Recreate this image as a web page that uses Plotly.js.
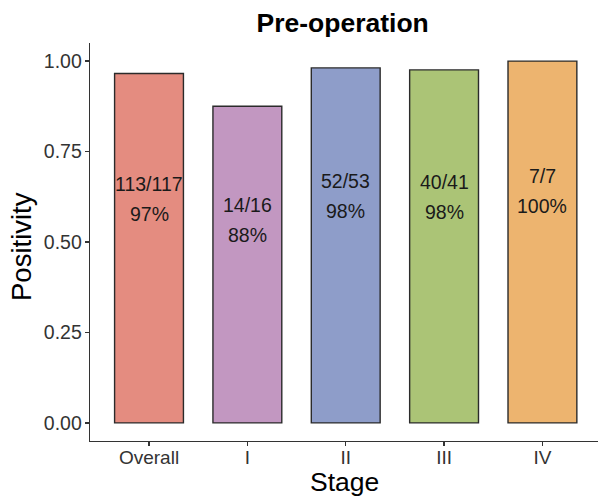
<!DOCTYPE html>
<html>
<head>
<meta charset="utf-8">
<script src="https://cdn.plot.ly/plotly-3.0.1.min.js"></script>
<style>html,body{margin:0;padding:0;background:#fff;}#chart{width:598px;height:498px;}</style>
</head>
<body>
<div id="chart"></div>
<script>
const categories = ["Overall", "I", "II", "III", "IV"];
const positives = [113, 14, 52, 40, 7];
const totals = [117, 16, 53, 41, 7];
const barColors = ["#E48C80", "#C297C1", "#8E9DC9", "#ABC476", "#EDB46F"];
const yTickVals = [0, 0.25, 0.5, 0.75, 1.0];
const yTickText = ["0.00", "0.25", "0.50", "0.75", "1.00"];

const positivity = positives.map((p, i) => p / totals[i]);
const fracText = positives.map((p, i) => p + "/" + totals[i]);
const pctText = positivity.map(v => Math.round(v * 100) + "%");

const FONT = "Liberation Sans, Arial, sans-serif";

const bars = {
  type: "bar",
  x: categories,
  y: positivity,
  marker: { color: barColors, line: { color: "#2b2b2b", width: 1.4 } },
  hoverinfo: "skip"
};

const annotations = [];
categories.forEach((c, i) => {
  const yc = positivity[i] * 0.64;
  annotations.push({ x: c, y: yc, xref: "x", yref: "y", text: fracText[i], showarrow: false,
    yshift: 15, font: { family: FONT, size: 19.5, color: "#1a1a1a" } });
  annotations.push({ x: c, y: yc, xref: "x", yref: "y", text: pctText[i], showarrow: false,
    yshift: -15, font: { family: FONT, size: 19.5, color: "#1a1a1a" } });
});
annotations.push({ x: 0.5, y: 0, xref: "paper", yref: "paper", yanchor: "top", yshift: -25,
  text: "Stage", showarrow: false, borderpad: 0, font: { family: FONT, size: 26.5, color: "#000" } });
annotations.push({ x: 0, y: 0.5, xref: "paper", yref: "paper", xanchor: "center", xshift: -69, yshift: -5,
  text: "Positivity", textangle: -90, showarrow: false, font: { family: FONT, size: 27.5, color: "#000" } });

const layout = {
  width: 598, height: 498,
  margin: { l: 90, r: 0, t: 43, b: 57 },
  paper_bgcolor: "#fff", plot_bgcolor: "#fff",
  showlegend: false,
  bargap: 0.3,
  title: { text: "<b>Pre-operation</b>", x: 0.573, xanchor: "center", y: 0.955, yanchor: "middle",
    font: { family: FONT, size: 26.5, color: "#000" } },
  xaxis: {
    type: "category", range: [-0.6, 4.565],
    showline: true, linecolor: "#333", linewidth: 1.3, mirror: false,
    ticks: "outside", ticklen: 4, tickcolor: "#333", tickwidth: 1.2,
    ticklabelstandoff: -5,
    showgrid: false, zeroline: false,
    tickfont: { family: FONT, size: 19, color: "#333" }
  },
  yaxis: {
    range: [-0.05, 1.05],
    tickvals: yTickVals, ticktext: yTickText,
    showline: true, linecolor: "#333", linewidth: 1.3,
    ticks: "outside", ticklen: 4, tickcolor: "#333", tickwidth: 1.2,
    ticklabelstandoff: -1,
    showgrid: false, zeroline: false,
    tickfont: { family: FONT, size: 19.5, color: "#333" }
  },
  annotations: annotations
};

Plotly.newPlot("chart", [bars], layout, { displayModeBar: false, staticPlot: true });
</script>
</body>
</html>
